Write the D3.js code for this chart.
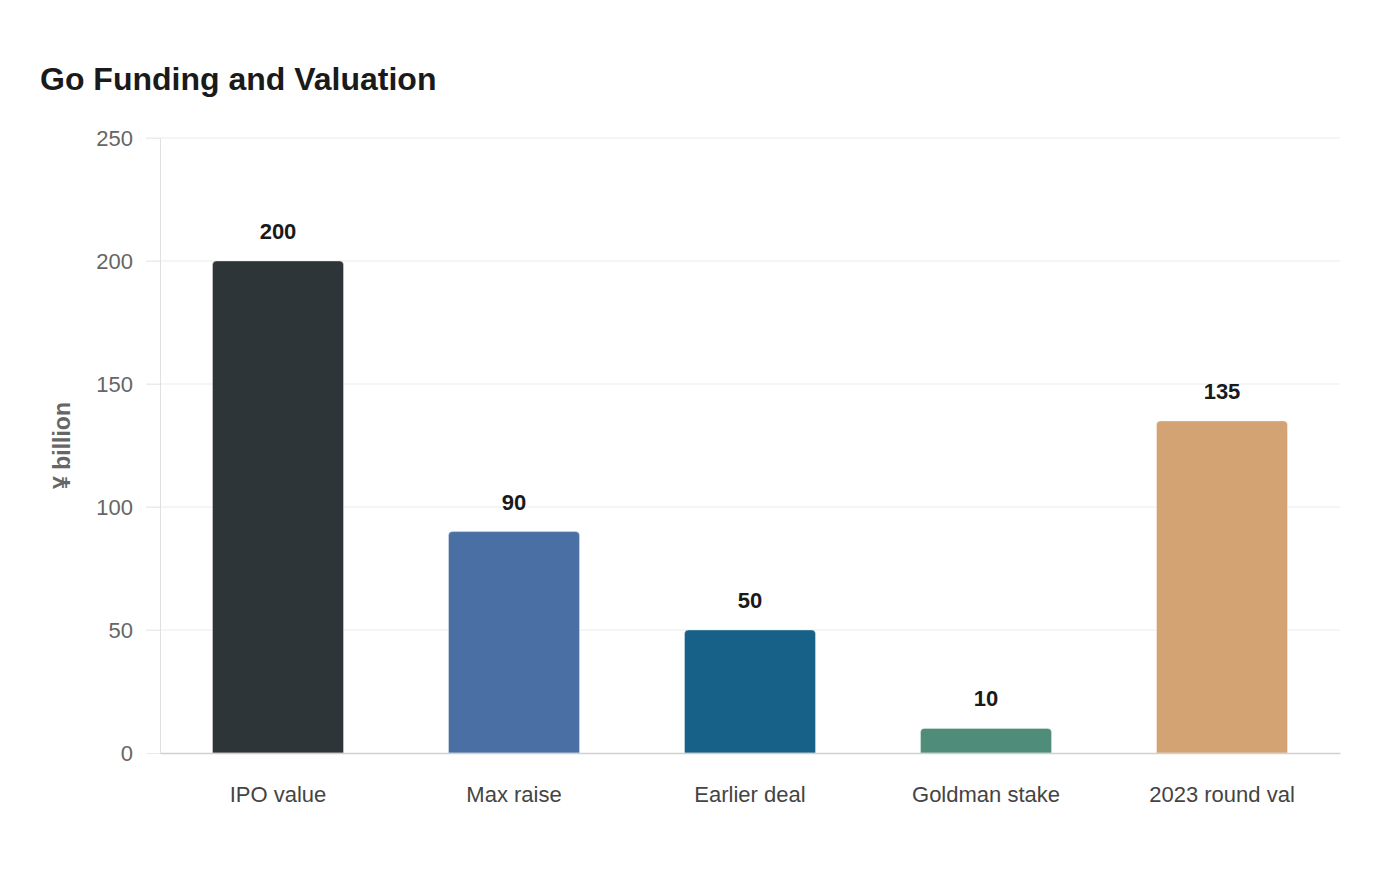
<!DOCTYPE html>
<html><head><meta charset="utf-8">
<script src="https://cdn.jsdelivr.net/npm/d3@7"></script>
<style>
body{margin:0;background:#fff;font-family:"Liberation Sans",Arial,sans-serif;}
</style></head>
<body><svg id="c" width="1400" height="880"></svg>
<script>
const categories = ["IPO value","Max raise","Earlier deal","Goldman stake","2023 round val"];
const values = [200, 90, 50, 10, 135];
const colors = ["#2e3538","#4a6fa5","#176087","#4f8c7a","#d4a373"];
const yTicks = [0,50,100,150,200,250];

const svg = d3.select("#c");
const m = {l:160, r:60, t:138, b:127};
const W = 1400, H = 880;
const x = d3.scaleBand().domain(categories).range([m.l, W-m.r]).paddingInner(0.445).paddingOuter(0.2225);
const y = d3.scaleLinear().domain([0,250]).range([H-m.b, m.t]);

svg.append("text").attr("x",40).attr("y",90).attr("font-size",32).attr("font-weight","bold")
  .attr("fill","#1a1a1a").text("Go Funding and Valuation");

// grid
svg.append("g").selectAll("line").data(yTicks.filter(d=>d>0)).join("line")
  .attr("x1",146).attr("x2",W-m.r).attr("y1",d=>y(d)).attr("y2",d=>y(d))
  .attr("stroke","#ebebeb").attr("stroke-width",1);
// y axis
const ya = svg.append("g").attr("transform",`translate(${m.l},0)`)
  .call(d3.axisLeft(y).tickValues(yTicks).tickSize(14).tickPadding(13));
ya.select(".domain").attr("stroke","#e0e0e0");
ya.selectAll(".tick line").attr("stroke","#ebebeb");
ya.selectAll(".tick text").attr("font-size",22).attr("fill","#666").attr("font-family","Liberation Sans, Arial, sans-serif");

svg.append("text").attr("transform",`translate(70,${(m.t+H-m.b)/2}) rotate(-90)`)
  .attr("text-anchor","middle").attr("font-size",23).attr("font-weight","bold").attr("fill","#666")
  .text("¥ billion");

// bars
const r = 4;
svg.append("g").selectAll("path").data(values).join("path")
  .attr("d",(d,i)=>{
    const x0 = x(categories[i]), w = x.bandwidth(), y0 = y(d), y1 = y(0);
    return `M${x0},${y1}V${y0+r}Q${x0},${y0} ${x0+r},${y0}H${x0+w-r}Q${x0+w},${y0} ${x0+w},${y0+r}V${y1}Z`;
  })
  .attr("fill",(d,i)=>colors[i]).attr("stroke","rgba(255,255,255,0.35)").attr("stroke-width",1);

// x axis
const xa = svg.append("g").attr("transform",`translate(0,${y(0)})`)
  .call(d3.axisBottom(x).tickSize(0).tickPadding(33));
xa.select(".domain").attr("stroke","#d0d0d0").attr("stroke-width",1.5);
xa.selectAll(".tick text").attr("font-size",22).attr("fill","#444").attr("font-family","Liberation Sans, Arial, sans-serif");

// labels
svg.append("g").selectAll("text").data(values).join("text")
  .attr("x",(d,i)=>x(categories[i])+x.bandwidth()/2).attr("y",d=>y(d)-22)
  .attr("text-anchor","middle").attr("font-size",22).attr("font-weight","bold").attr("fill","#1a1a1a")
  .text(d=>d);
</script></body></html>
